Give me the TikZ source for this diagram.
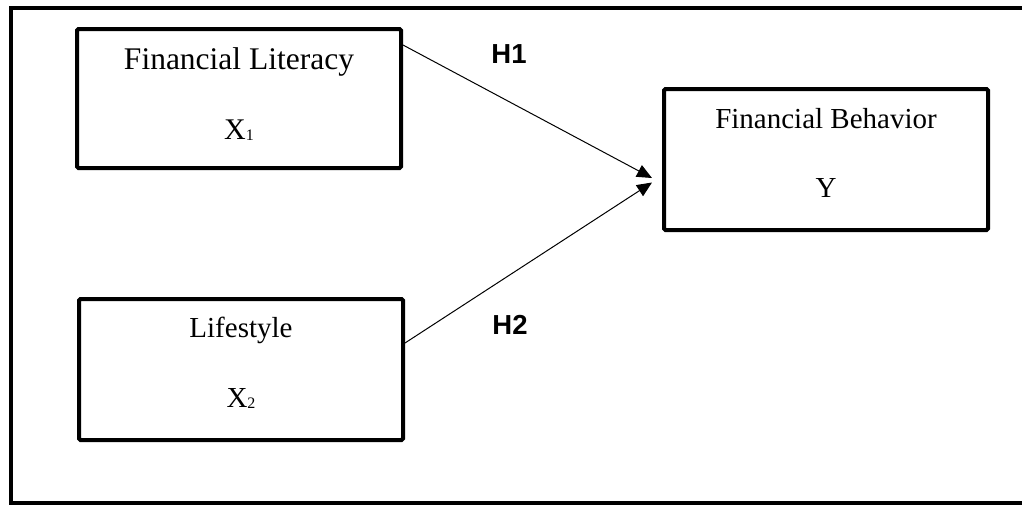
\documentclass[tikz,border=0pt]{standalone}
\usepackage{fontspec}
\setmainfont{Liberation Serif}
\newfontfamily\hypfont{Liberation Sans}
\usetikzlibrary{arrows.meta}

\tikzset{
    factor/.style={draw, line width=4pt, rounded corners=1.5pt, minimum width=324pt, minimum height=141pt, inner sep=0pt},
    boxtext/.style={anchor=base, font=\fontsize{29}{34}\selectfont},
    link/.style={line width=1pt, -{Triangle[length=15pt,width=13pt]}},
    hyp/.style={font=\hypfont\bfseries\fontsize{27.5}{32}\selectfont}
}
\newcommand{\subnum}[1]{\raisebox{-1pt}{\fontsize{16}{18}\selectfont #1}}

\begin{document}
\begin{tikzpicture}[x=1pt,y=-1pt]
    \useasboundingbox (0,0) rectangle (1022,504);
    \draw[line width=4pt] (1022,8) -- (10.5,8) -- (10.5,502.5) -- (1022,502.5);

    \node[factor, minimum height=139pt] (lit) at (239,98.5) {};
    \node[factor] (life) at (241,369.5) {};
    \node[factor] (beh) at (826,159.5) {};

    \node[boxtext, font=\fontsize{31.5}{36}\selectfont] (lit-name) at ([yshift=29.5pt]lit.center) {Financial Literacy};
    \node[boxtext, font=\fontsize{30}{34}\selectfont] (lit-var) at ([yshift=-41pt]lit.center) {X\subnum{1}};
    \node[boxtext] (life-name) at ([yshift=32.5pt]life.center) {Lifestyle};
    \node[boxtext] (life-var) at ([yshift=-37.5pt]life.center) {X\subnum{2}};
    \node[boxtext] (beh-name) at ([yshift=31.5pt]beh.center) {Financial Behavior};
    \node[boxtext] (beh-var) at ([yshift=-37.5pt]beh.center) {Y};

    \coordinate (tip1) at ([xshift=-10pt,yshift=-18.5pt]beh.west);
    \coordinate (tip2) at ([xshift=-10pt,yshift=-23pt]beh.west);
    \draw[link] ([yshift=-18pt]lit.north east) -- (tip1);
    \draw[link] ([yshift=-46pt]life.north east) -- (tip2);

    \node[hyp] (h1) at (509,54) {H1};
    \node[hyp] (h2) at (510,325) {H2};
\end{tikzpicture}
\end{document}
